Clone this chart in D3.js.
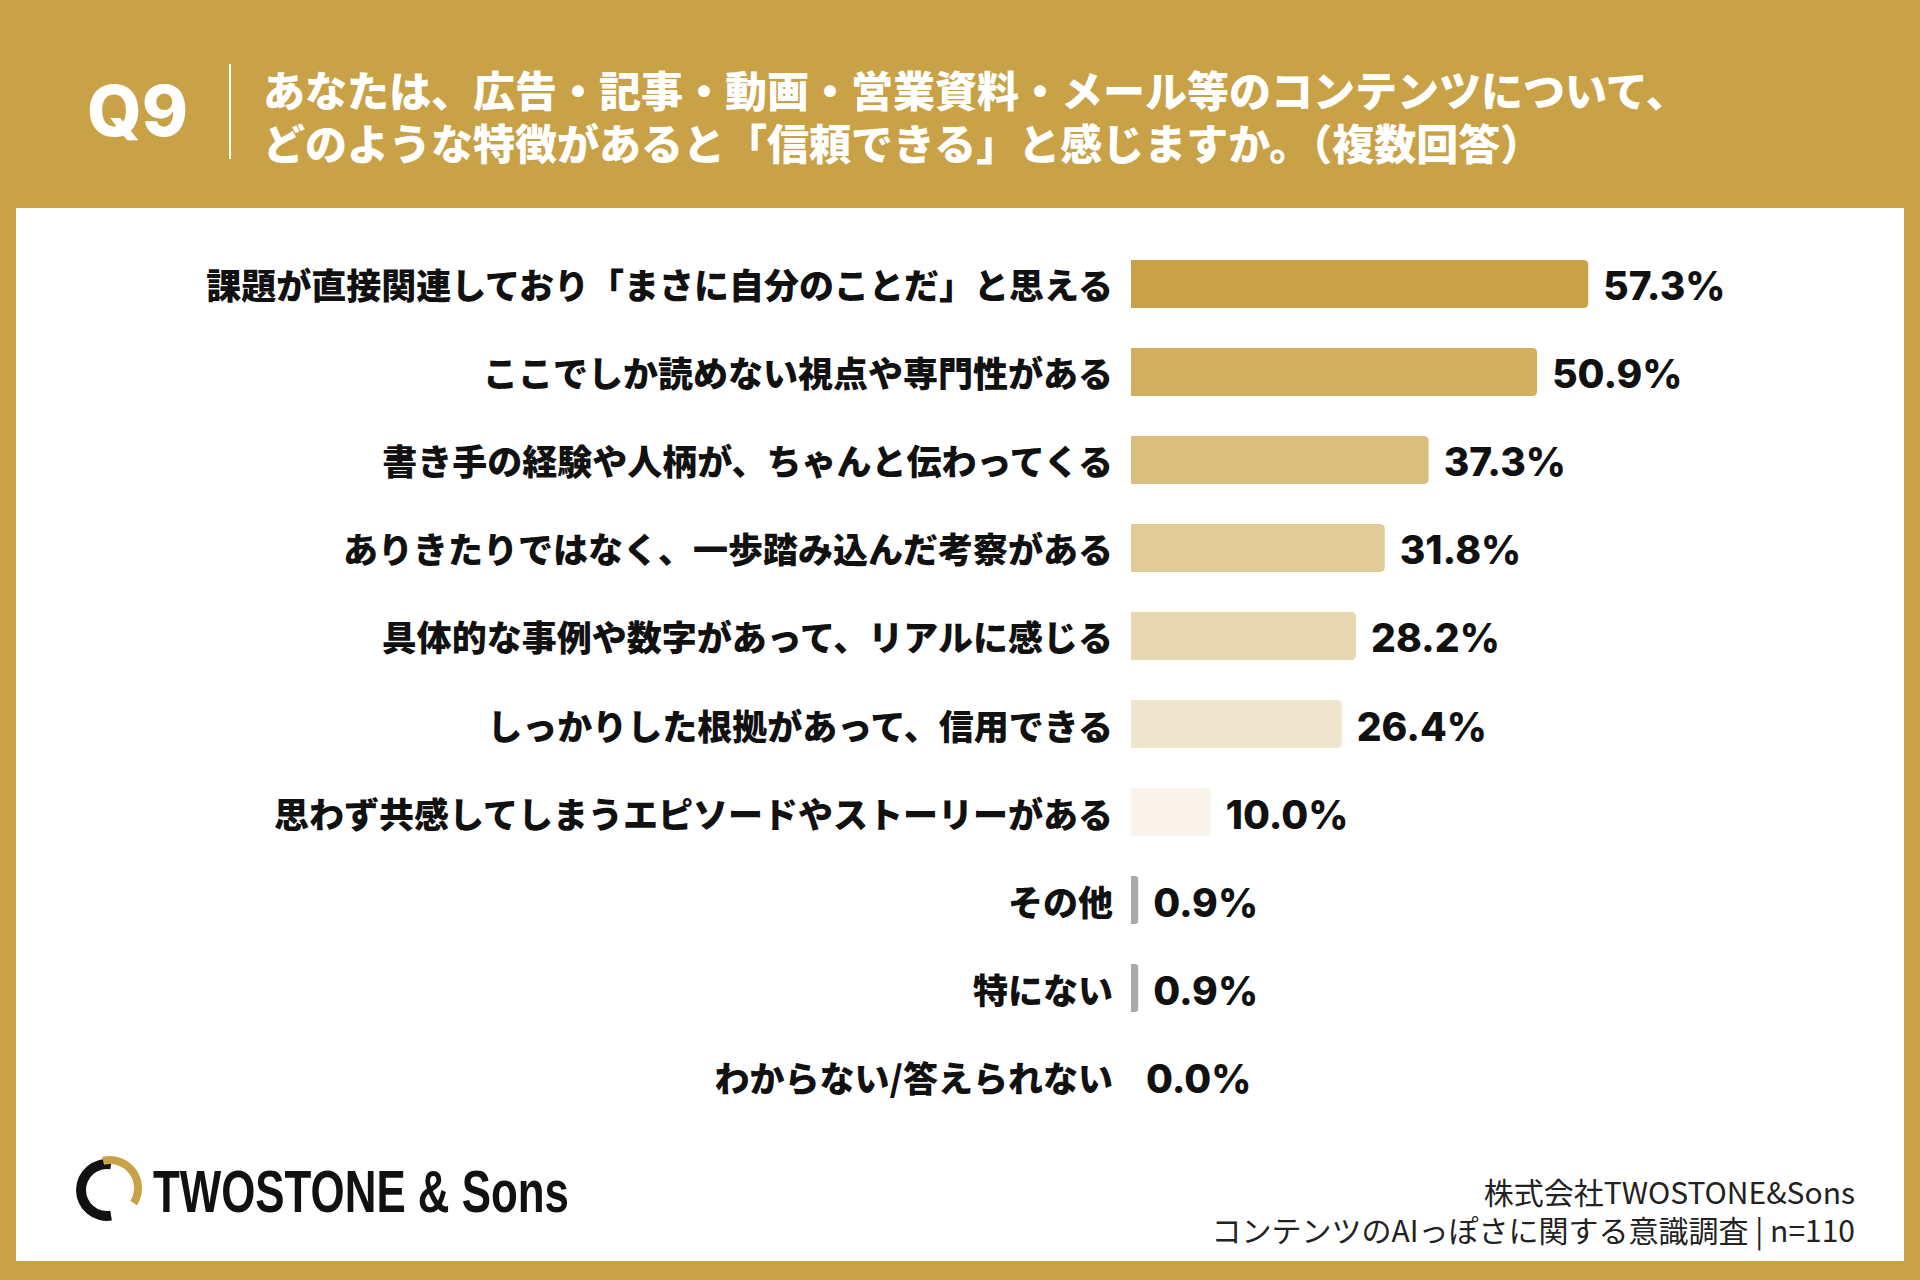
<!DOCTYPE html>
<html lang="ja">
<head>
<meta charset="utf-8">
<script src="https://cdn.jsdelivr.net/npm/d3@7"></script>
<style>
  html, body { margin: 0; padding: 0; background: #fff; }
  svg { display: block; }
</style>
</head>
<body>
<svg id="chart"></svg>
<script>
// survey answers, top to bottom
const categories = [
  "課題が直接関連しており「まさに自分のことだ」と思える",
  "ここでしか読めない視点や専門性がある",
  "書き手の経験や人柄が、ちゃんと伝わってくる",
  "ありきたりではなく、一歩踏み込んだ考察がある",
  "具体的な事例や数字があって、リアルに感じる",
  "しっかりした根拠があって、信用できる",
  "思わず共感してしまうエピソードやストーリーがある",
  "その他",
  "特にない",
  "わからない/答えられない"
];
const values = [57.3, 50.9, 37.3, 31.8, 28.2, 26.4, 10.0, 0.9, 0.9, 0.0];

const titleLines = [
  "あなたは、広告・記事・動画・営業資料・メール等のコンテンツについて、",
  "どのような特徴があると「信頼できる」と感じますか。（複数回答）"
];
const sourceLines = [
  "株式会社TWOSTONE&Sons",
  "コンテンツのAIっぽさに関する意識調査 | n=110"
];

const palette = ["#C9A248", "#D1AF5F", "#D9BE7E", "#E1CB97", "#E8D8B1", "#F0E6CE", "#F9F4EC", "#A9A9A9", "#A9A9A9", "#A9A9A9"];
const gold = "#C9A248";

const W = 1920, H = 1280;
const jp = "'Noto Sans CJK JP', 'Noto Sans', sans-serif";

const svg = d3.select("#chart").attr("width", W).attr("height", H);

// frame
svg.append("rect").attr("width", W).attr("height", H).attr("fill", gold);
svg.append("rect")
  .attr("x", 16).attr("y", 208)
  .attr("width", 1888).attr("height", 1053)
  .attr("fill", "#fff");

// header
svg.append("text")
  .attr("x", 87).attr("y", 136)
  .attr("font-family", "Inter, 'Noto Sans', sans-serif")
  .attr("font-weight", 800)
  .attr("font-size", 70)
  .attr("fill", "#fff")
  .text("Q9");

svg.append("line")
  .attr("x1", 230).attr("x2", 230)
  .attr("y1", 64).attr("y2", 159)
  .attr("stroke", "#fff").attr("stroke-width", 2);

svg.selectAll(".title")
  .data(titleLines)
  .enter()
  .append("text")
  .attr("class", "title")
  .attr("x", 263)
  .attr("y", (d, i) => 107 + i * 53)
  .attr("font-family", jp)
  .attr("font-weight", 900)
  .attr("font-size", 42)
  .attr("fill", "#fff")
  .text((d) => d);

// bars
const x = d3.scaleLinear().domain([0, 100]).range([1131, 1929]);
const y = d3.scaleBand()
  .domain(categories)
  .range([240, 1120])
  .paddingInner(0.455)
  .paddingOuter(0.227);

const rows = svg.selectAll(".row")
  .data(categories.map((c, i) => ({ name: c, value: values[i], color: palette[i] })))
  .enter()
  .append("g")
  .attr("class", "row");

function barPath(d) {
  const x0 = x(0), x1 = x(d.value), y0 = y(d.name), h = y.bandwidth();
  const r = Math.min(5, (x1 - x0) / 2);
  if (x1 - x0 <= 0) return "";
  return `M${x0},${y0}H${x1 - r}Q${x1},${y0} ${x1},${y0 + r}V${y0 + h - r}Q${x1},${y0 + h} ${x1 - r},${y0 + h}H${x0}Z`;
}

rows.append("path")
  .attr("d", barPath)
  .attr("fill", (d) => d.color);

rows.append("text")
  .attr("x", x(0) - 18)
  .attr("y", (d) => y(d.name) + y.bandwidth() / 2)
  .attr("text-anchor", "end")
  .attr("dominant-baseline", "central")
  .attr("font-family", jp)
  .attr("font-weight", 900)
  .attr("font-size", 35)
  .attr("fill", "#111")
  .text((d) => d.name);

rows.append("text")
  .attr("x", (d) => x(d.value) + 15)
  .attr("y", (d) => y(d.name) + y.bandwidth() / 2 + 2)
  .attr("dominant-baseline", "central")
  .attr("font-family", "Inter, 'Noto Sans', sans-serif")
  .attr("font-weight", 800)
  .attr("font-size", 39)
  .attr("fill", "#111")
  .text((d) => d.value.toFixed(1) + "%");

// logo
const logo = svg.append("g").attr("transform", "translate(107,1190)");
const arc = d3.arc();
logo.append("path")
  .attr("d", arc({ innerRadius: 21, outerRadius: 31, startAngle: Math.PI * 0.95, endAngle: Math.PI * 2.05 }))
  .attr("fill", "#111");
logo.append("path")
  .attr("d", arc({ innerRadius: 24, outerRadius: 32, startAngle: -0.25, endAngle: Math.PI * 0.68 }))
  .attr("transform", "translate(3,-2)")
  .attr("fill", gold);

svg.append("text")
  .attr("x", 153).attr("y", 1212)
  .attr("font-family", "'Liberation Sans Narrow', 'Liberation Sans', sans-serif")
  .attr("font-weight", 700)
  .attr("font-size", 60)
  .attr("textLength", 416)
  .attr("lengthAdjust", "spacingAndGlyphs")
  .attr("fill", "#111")
  .text("TWOSTONE & Sons");

// source
svg.selectAll(".source")
  .data(sourceLines)
  .enter()
  .append("text")
  .attr("class", "source")
  .attr("x", 1855)
  .attr("y", (d, i) => 1204 + i * 38)
  .attr("text-anchor", "end")
  .attr("font-family", jp)
  .attr("font-weight", 400)
  .attr("font-size", 30)
  .attr("fill", "#222")
  .text((d) => d);
</script>
</body>
</html>
